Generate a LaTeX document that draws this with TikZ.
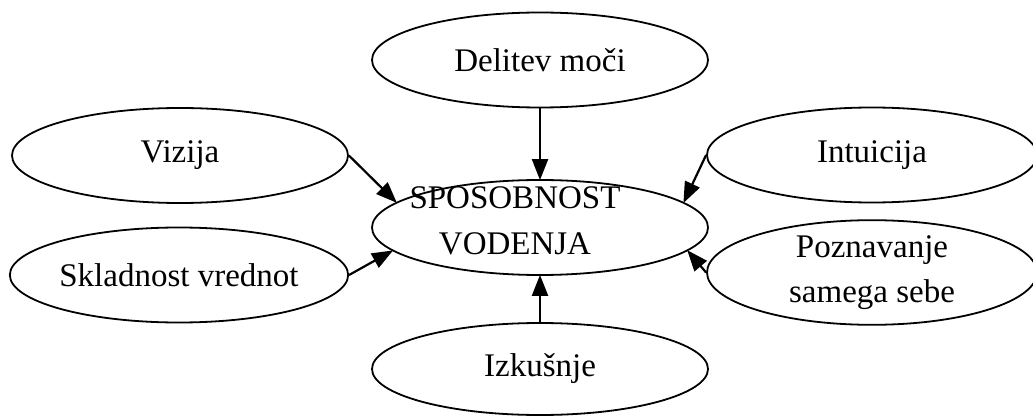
\documentclass[tikz,border=0pt]{standalone}
\usepackage{fontspec}
\setmainfont{Liberation Serif}
\usetikzlibrary{shapes.geometric,arrows.meta}
\tikzset{
  bubble/.style={ellipse, draw, line width=1.8pt, minimum width=336pt, minimum height=95pt,
    inner sep=0pt, align=center, font=\fontsize{33}{45}\selectfont},
  arr/.style={line width=2.2pt, -{Triangle[length=21pt,width=16pt]}, shorten >=-1pt}
}
\begin{document}
\begin{tikzpicture}[x=1pt,y=-1pt]
  \useasboundingbox (0,0) rectangle (1033,417);
  \node[bubble] (core) at (540,227.5) {};
  \node[font=\fontsize{33}{46}\selectfont, align=center] (coretext) at (515,221) {SPOSOBNOST\\VODENJA};
  \node[bubble] (dm)  at (540,60)  {Delitev moči};
  \node[bubble] (viz) at (180,155.5) {Vizija};
  \node[bubble] (skl) at (179,275) {Skladnost vrednot};
  \node[bubble, minimum width=330pt] (int) at (872,155) {Intuicija};
  \node[bubble, minimum width=330pt] (poz) at (872,272.5) {Poznavanje\\samega sebe};
  \node[bubble, minimum height=92pt] (izk) at (540,369) {Izkušnje};

  \draw[arr] (dm.south)  -- (core.north);
  \draw[arr] (izk.north) -- (core.south);
  \draw[arr] (viz.east)  -- (core.170);
  \draw[arr] (skl.east)  -- (core.189.5);
  \draw[arr] (int.west)  -- (core.10.5);
  \draw[arr] (poz.west)  -- (core.-9.5);
\end{tikzpicture}
\end{document}
